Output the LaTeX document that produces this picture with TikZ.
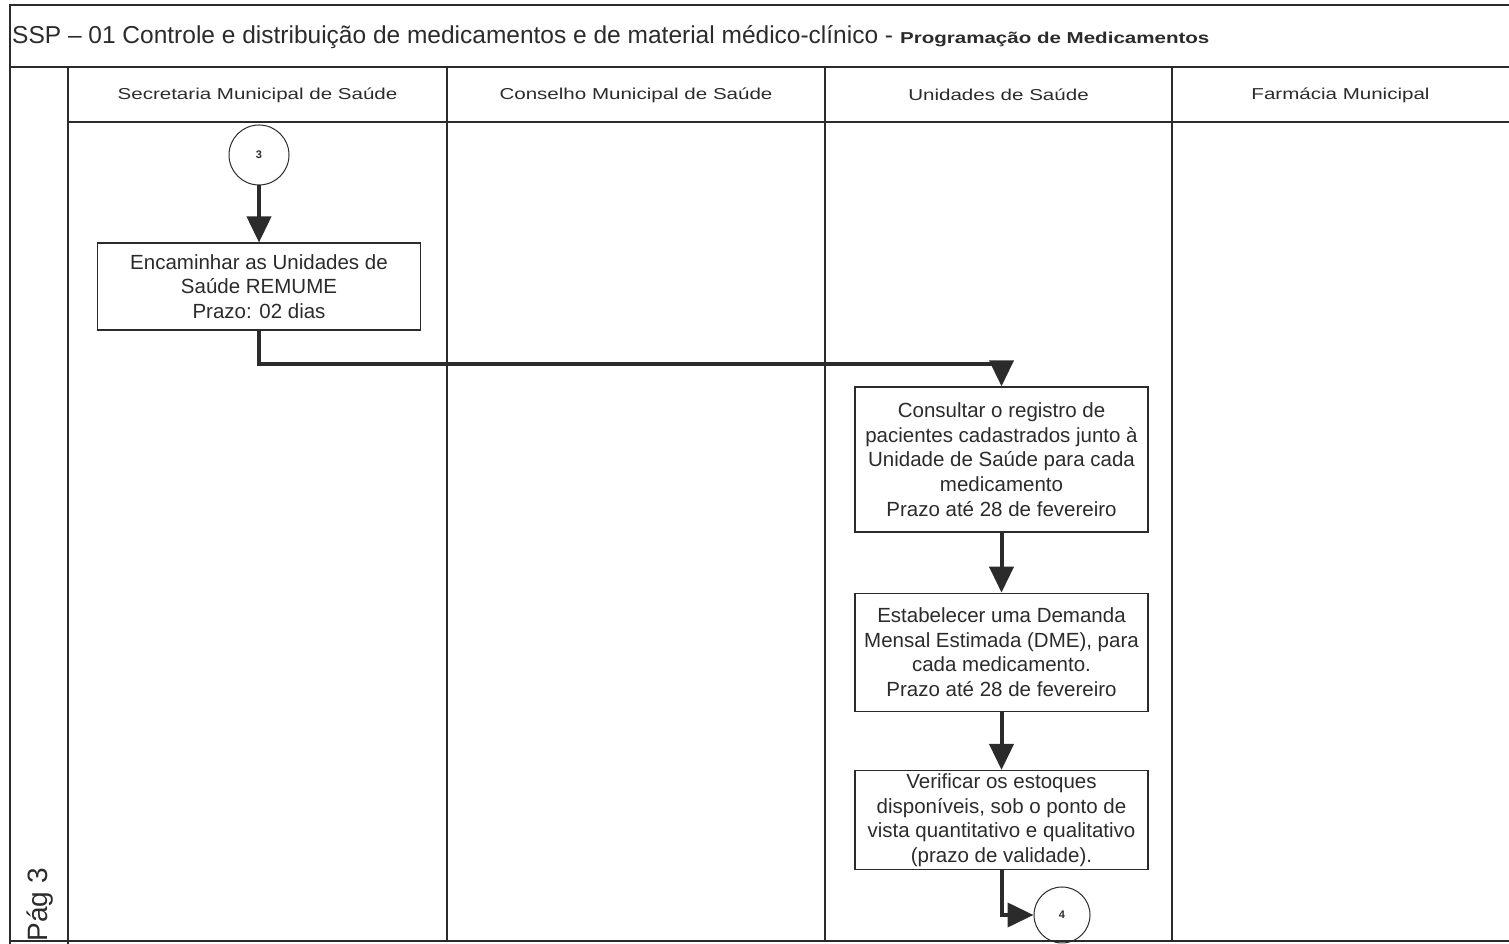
\documentclass[tikz,border=0pt]{standalone}
\usepackage{fontspec}
\setmainfont{Liberation Sans}
\newfontfamily\widefont[FakeStretch=1.3]{Liberation Sans}
\usetikzlibrary{arrows.meta,positioning}
\definecolor{ink}{HTML}{2B2B2B}

\begin{document}
\begin{tikzpicture}[x=1pt,y=1pt,>={Triangle[width=24pt,length=26pt]},
  frame/.style={draw=ink,line width=1.4pt},
  box/.style={draw=ink,line width=1.3pt,align=center,inner sep=2pt,minimum width=293pt,text=ink,font=\fontsize{20.5}{24.6}\selectfont},
  conn/.style={draw=ink,circle,line width=1pt,minimum size=60pt,inner sep=0pt,text=ink,font=\fontsize{11}{13}\selectfont\bfseries},
  lane/.style={text=ink,font=\widefont\fontsize{15.8}{19}\selectfont},
  flow/.style={draw=ink,line width=4pt,->}]
\useasboundingbox (0,0) rectangle (1509,944);
\clip (0,0) rectangle (1509,944);
% swimlane frame
\draw[frame] (1509,939) -- (10,939) -- (10,0);
\draw[frame] (10,877) -- (1509,877);
\draw[frame] (68,877) -- (68,0);
\draw[frame] (68,822) -- (1509,822);
\draw[frame] (10,3) -- (1509,3);
\foreach \x in {447,825,1172} \draw[frame] (\x,877) -- (\x,3);
\node (title) [anchor=west,text=ink,inner sep=0pt] at (12,907) {\fontsize{24.5}{28}\selectfont SSP – 01 Controle e distribuição de medicamentos e de material médico-clínico - {\widefont\bfseries\fontsize{15.8}{19}\selectfont Programação de Medicamentos}};
\node (sms) [lane] at (257.5,849) {Secretaria Municipal de Saúde};
\node (cms) [lane] at (636,849) {Conselho Municipal de Saúde};
\node (us) [lane] at (998.5,849) {Unidades de Saúde};
\node (fm) [lane] at (1340.5,849) {Farmácia Municipal};
\node (pag) [rotate=90,anchor=east,text=ink,inner sep=0pt,font=\fontsize{28}{30}\selectfont] at (40,76) {Pág 3};
% steps
\node (c3) [conn] at (259,789) {3};
\node (enc) [box,minimum width=323pt,minimum height=87pt,below=57pt of c3] {Encaminhar as Unidades de\\Saúde REMUME\\Prazo: 02 dias};
\node (cons) [box,minimum height=145pt] at (1001.5,484.5) {Consultar o registro de\\pacientes cadastrados junto à\\Unidade de Saúde para cada\\medicamento\\Prazo até 28 de fevereiro};
\node (dme) [box,minimum height=118pt,below=60pt of cons] {Estabelecer uma Demanda\\Mensal Estimada (DME), para\\cada medicamento.\\Prazo até 28 de fevereiro};
\node (est) [box,minimum height=99pt,below=58pt of dme] {Verificar os estoques\\disponíveis, sob o ponto de\\vista quantitativo e qualitativo\\(prazo de validade).};
\node (c4) [conn,minimum size=56pt] at (1062,29) {4};
% flow
\draw[flow] (c3) -- (enc);
\draw[flow] (enc.south) -- ++(0,-33) -| (cons.north);
\draw[flow] (cons) -- (dme);
\draw[flow] (dme) -- (est);
\draw[flow] (est.south) |- (c4);
\end{tikzpicture}
\end{document}
